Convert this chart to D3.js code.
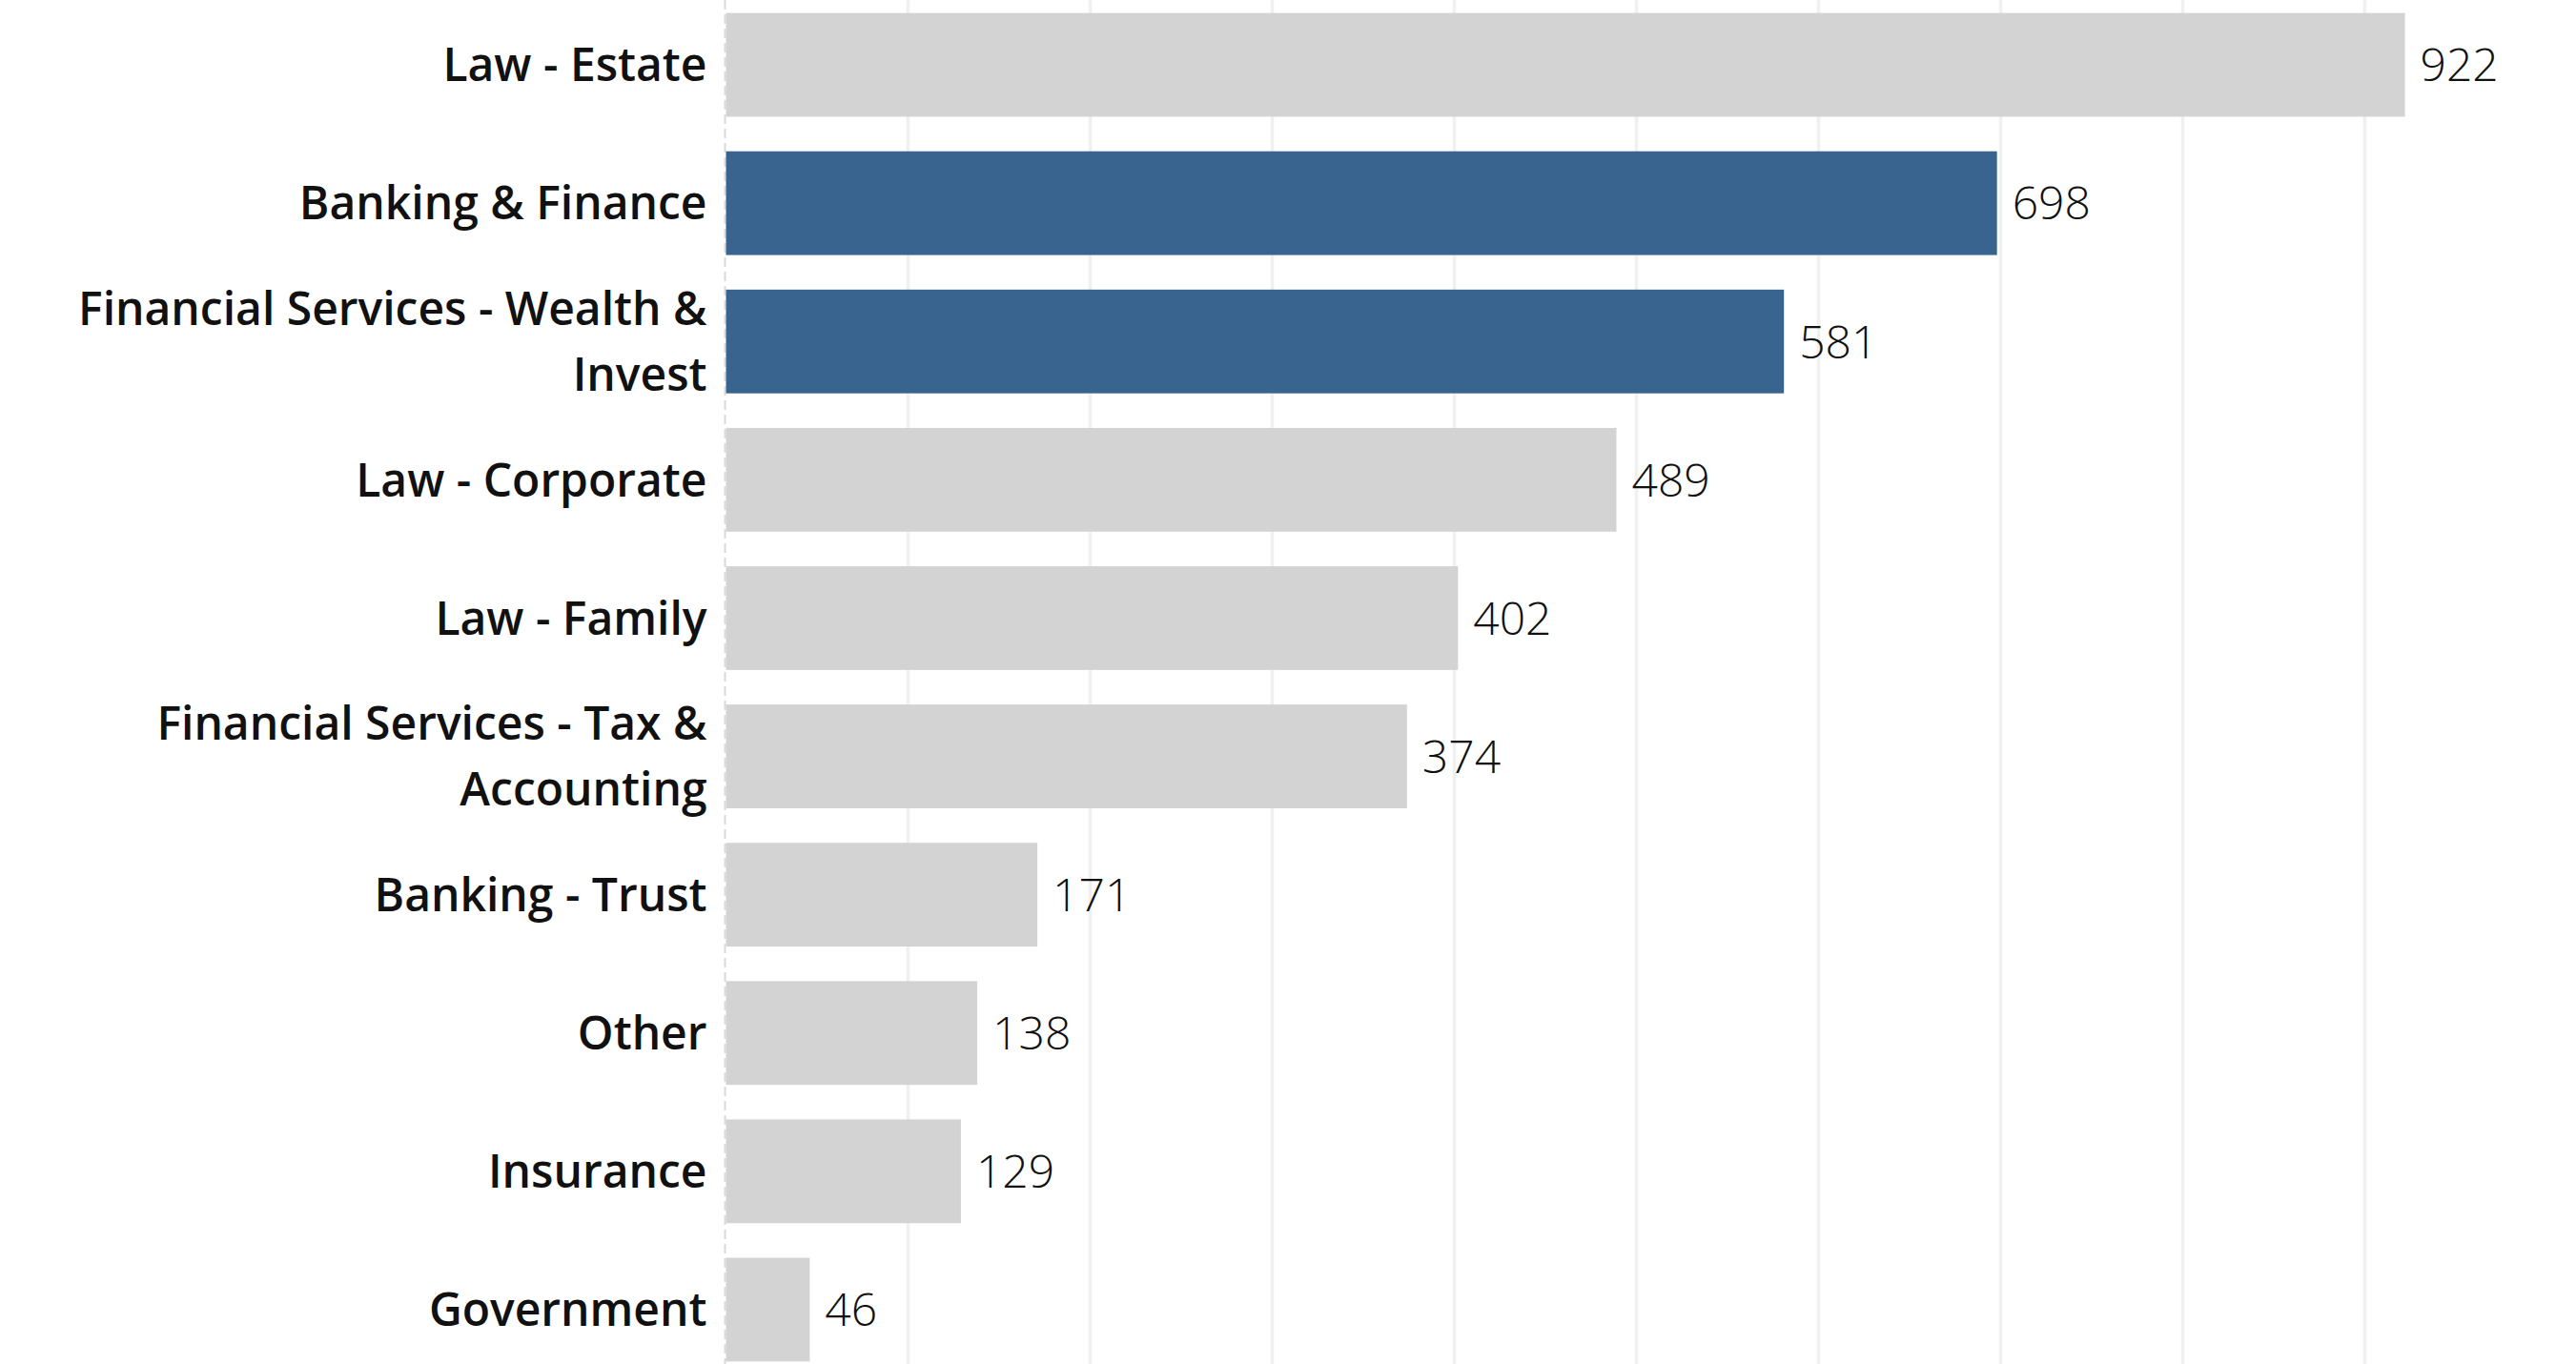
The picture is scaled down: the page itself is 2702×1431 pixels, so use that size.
<html>
<head>
<meta charset="utf-8" />
<title>Industry counts</title>
<script src="https://d3js.org/d3.v7.min.js"></script>
<style>
    body { margin: 0px; background: #fff; }
    .cat-label { font-family: "Open Sans", Lato, sans-serif; font-size: 48px; font-weight: 600; fill: #111; }
    .val-label { font-family: "Open Sans", Lato, sans-serif; font-size: 48px; font-weight: 300; fill: #111; }
</style>
</head>
<body>
<svg id="chart" width="2702" height="1431"></svg>
<script>
// data
var categories = ["Law - Estate", "Banking & Finance", "Financial Services - Wealth & Invest",
    "Law - Corporate", "Law - Family", "Financial Services - Tax & Accounting",
    "Banking - Trust", "Other", "Insurance", "Government"];
var counts = [922, 698, 581, 489, 402, 374, 171, 138, 129, 46];
var highlighted = ["Banking & Finance", "Financial Services - Wealth & Invest"];
var gridTicks = [100, 200, 300, 400, 500, 600, 700, 800, 900];

var width = 2702, height = 1431;
var axisX = 761.5;

var svg = d3.select("#chart");

var x = d3.scaleLinear()
    .domain([0, 1000])
    .range([axisX, axisX + 1910]);

var y = d3.scaleBand()
    .domain(categories)
    .range([-4.5, 1446.5])
    .paddingInner(0.25)
    .paddingOuter(0.125);

// vertical gridlines
svg.append("g")
    .selectAll("line")
    .data(gridTicks)
    .enter()
    .append("line")
        .attr("x1", d => x(d))
        .attr("x2", d => x(d))
        .attr("y1", 0)
        .attr("y2", height)
        .style("stroke", "#f0f0f0")
        .style("stroke-width", 3.5);

// dashed zero line
svg.append("line")
    .attr("x1", x(0) - 1)
    .attr("x2", x(0) - 1)
    .attr("y1", 0)
    .attr("y2", height)
    .style("stroke", "#d9d9d9")
    .style("stroke-width", 2)
    .style("stroke-dasharray", "10,5");

var rows = categories.map((c, i) => ({name: c, value: counts[i]}));

// bars
svg.append("g")
    .selectAll("rect")
    .data(rows)
    .enter()
    .append("rect")
        .attr("x", x(0))
        .attr("y", d => y(d.name))
        .attr("width", d => x(d.value) - x(0))
        .attr("height", y.bandwidth())
        .style("fill", d => highlighted.includes(d.name) ? "#38648f" : "#d3d3d3");

// value labels
svg.append("g")
    .selectAll("text")
    .data(rows)
    .enter()
    .append("text")
        .attr("class", "val-label")
        .attr("x", d => x(d.value) + 16)
        .attr("y", d => y(d.name) + y.bandwidth() / 2)
        .attr("dy", "0.36em")
        .text(d => d.value);

// category labels, wrapped to the label column width
var labelRight = axisX - 20;
var maxLabelWidth = 720;
var lineHeight = 69;

var labels = svg.append("g")
    .selectAll("text")
    .data(rows)
    .enter()
    .append("text")
        .attr("class", "cat-label")
        .attr("text-anchor", "end");

labels.each(function(d) {
    var t = d3.select(this);
    var words = d.name.split(" ");
    var lines = [];
    var line = [];
    var tmp = t.append("tspan");
    words.forEach(function(w) {
        line.push(w);
        tmp.text(line.join(" "));
        if (tmp.node().getComputedTextLength() > maxLabelWidth && line.length > 1) {
            line.pop();
            lines.push(line.join(" "));
            line = [w];
        }
    });
    lines.push(line.join(" "));
    tmp.remove();
    var cy = y(d.name) + y.bandwidth() / 2;
    lines.forEach(function(l, i) {
        t.append("tspan")
            .attr("x", labelRight)
            .attr("y", cy + (i - (lines.length - 1) / 2) * lineHeight)
            .attr("dy", "0.36em")
            .text(l);
    });
});
</script>
</body>
</html>
